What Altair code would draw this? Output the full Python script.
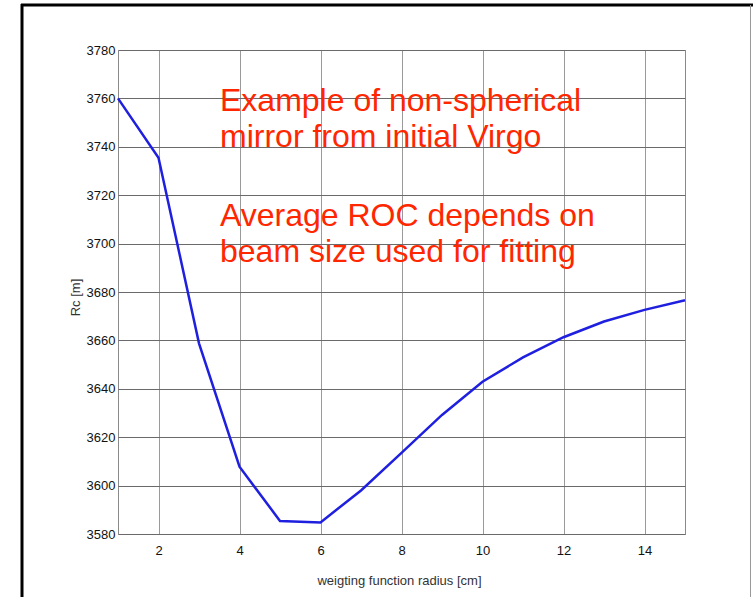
import altair as alt
import pandas as pd

# Weighting function radius [cm] and fitted radius of curvature Rc [m]
radius_cm = [1, 2, 3, 4, 5, 6, 7, 8, 9, 10, 11, 12, 13, 14, 15]
rc_m = [3760.0, 3735.5, 3658.8, 3607.8, 3585.4, 3584.8, 3598.0, 3613.5,
        3629.2, 3642.9, 3653.0, 3661.3, 3667.8, 3672.6, 3676.6]

x_ticks = [2, 4, 6, 8, 10, 12, 14]
y_ticks = [3580, 3600, 3620, 3640, 3660, 3680, 3700, 3720, 3740, 3760, 3780]

note_1 = ["Example of non-spherical", "mirror from initial Virgo"]
note_2 = ["Average ROC depends on", "beam size used for fitting"]

df = pd.DataFrame({"r": radius_cm, "rc": rc_m})
one = pd.DataFrame({"k": [0]})

NARROW = "Liberation Sans Narrow, Arial Narrow, Liberation Sans, sans-serif"
RED = "#ff2600"

x_enc = alt.X(
    "r:Q",
    scale=alt.Scale(domain=[1, 15], nice=False, zero=False),
    axis=alt.Axis(
        values=x_ticks, title="weigting function radius [cm]", format="d",
        grid=True, gridColor="#9a9a9a", gridWidth=1,
        domain=False, ticks=False, labelPadding=10,
        labelFont=NARROW, labelFontSize=13, labelColor="#111",
        titleFont=NARROW, titleFontSize=13, titleFontWeight="normal",
        titleColor="#333", titleX=281, titleY=46, titleBaseline="middle",
    ),
)
y_enc = alt.Y(
    "rc:Q",
    scale=alt.Scale(domain=[3580, 3780], nice=False, zero=False),
    axis=alt.Axis(
        values=y_ticks, title="Rc [m]", format="d",
        grid=True, gridColor="#6a6a6a", gridWidth=1,
        domain=False, ticks=False, labelPadding=3,
        labelFont=NARROW, labelFontSize=13, labelColor="#111",
        titleFont=NARROW, titleFontSize=13, titleFontWeight="normal",
        titleColor="#333", titleX=-43, titleY=247, titleAngle=-90,
        titleAlign="center", titleBaseline="middle",
    ),
)

curve = alt.Chart(df).mark_line(color="#1f1fe0", strokeWidth=2.5).encode(x=x_enc, y=y_enc)

text_1 = alt.Chart(one).mark_text(
    text=note_1, align="left", baseline="alphabetic", font="Liberation Sans",
    fontSize=32, lineHeight=36, color=RED,
).encode(x=alt.value(102), y=alt.value(61))

text_2 = alt.Chart(one).mark_text(
    text=note_2, align="left", baseline="alphabetic", font="Liberation Sans",
    fontSize=32, lineHeight=36, color=RED,
).encode(x=alt.value(102), y=alt.value(176))

# Slide frame around the figure
frame_left = alt.Chart(one).mark_rule(color="#000", strokeWidth=3).encode(
    x=alt.value(-96), y=alt.value(-46), y2=alt.value(560))
frame_top = alt.Chart(one).mark_rule(color="#000", strokeWidth=3).encode(
    x=alt.value(-97), x2=alt.value(640), y=alt.value(-45))
frame_right = alt.Chart(one).mark_rule(color="#999", strokeWidth=1).encode(
    x=alt.value(632.5), y=alt.value(-45), y2=alt.value(560))

chart = alt.layer(curve, text_1, text_2, frame_left, frame_top, frame_right).properties(
    width=567, height=484,
    autosize=alt.AutoSizeParams(type="none"),
    padding={"left": 118, "top": 50, "right": 68, "bottom": 63},
    background="white",
).configure_view(stroke="#8a8a8a", strokeWidth=1, clip=False)

chart.save("out.html", embed_options={"renderer": "svg", "actions": False})
